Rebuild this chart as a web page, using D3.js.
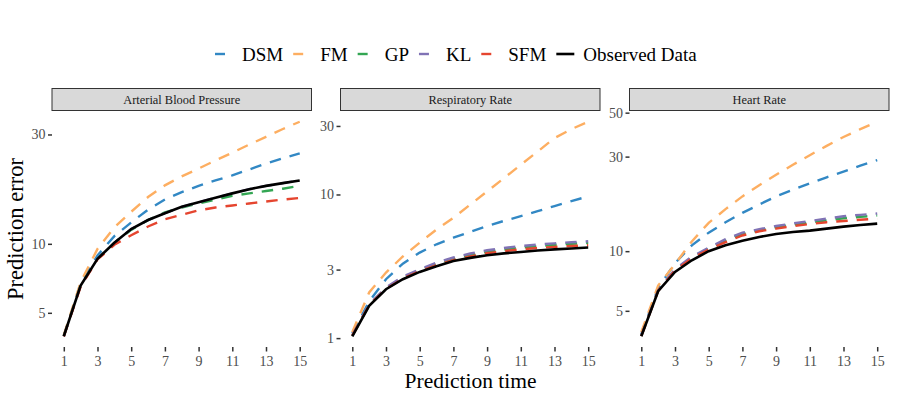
<!DOCTYPE html>
<html>
<head>
<meta charset="utf-8">
<script src="https://cdn.jsdelivr.net/npm/d3@7"></script>
<style>
  body { margin: 0; background: #fff; }
  svg text { font-family: "Liberation Serif", "DejaVu Serif", serif; }
</style>
</head>
<body>
<svg id="chart" width="897" height="399"></svg>
<script>
// prediction horizon
const times = [1, 2, 3, 4, 5, 6, 7, 8, 9, 10, 11, 12, 13, 14, 15];
const methods = ["DSM", "FM", "GP", "KL", "SFM", "Observed Data"];
const colors = ["#3288c4", "#fdae61", "#33a653", "#8073b5", "#e5452f", "#000000"];
const panelNames = ["Arterial Blood Pressure", "Respiratory Rate", "Heart Rate"];

// Arterial Blood Pressure
const abpDSM = [3.98, 6.7, 8.9, 10.8, 12.4, 14.1, 15.6, 16.8, 17.9, 18.9, 19.9, 21.1, 22.4, 23.6, 24.8];
const abpFM = [4.0, 6.8, 9.5, 11.8, 13.8, 16.0, 18.0, 19.7, 21.3, 23.1, 25.0, 27.1, 29.3, 31.7, 34.1];
const abpGP = [3.96, 6.6, 8.6, 10.1, 11.5, 12.7, 13.7, 14.4, 15.0, 15.6, 16.2, 16.6, 17.0, 17.4, 17.9];
const abpKL = [3.95, 6.57, 8.6, 10.1, 11.6, 12.7, 13.6, 14.5, 15.2, 15.9, 16.6, 17.3, 17.9, 18.4, 18.9];
const abpSFM = [3.95, 6.5, 8.55, 9.9, 10.9, 11.9, 12.8, 13.4, 14.0, 14.4, 14.7, 15.0, 15.3, 15.6, 15.85];
const abpObs = [3.95, 6.57, 8.6, 10.1, 11.6, 12.7, 13.6, 14.5, 15.2, 15.9, 16.6, 17.3, 17.9, 18.4, 18.9];

// Respiratory Rate
const rrDSM = [1.08, 1.8, 2.57, 3.3, 3.94, 4.5, 5.0, 5.5, 6.02, 6.55, 7.06, 7.65, 8.3, 9.0, 9.7];
const rrFM = [1.1, 2.08, 2.86, 3.7, 4.62, 5.7, 6.88, 8.5, 10.5, 13.0, 16.1, 19.9, 24.7, 28.5, 32.1];
const rrGP = [1.04, 1.7, 2.22, 2.63, 2.97, 3.28, 3.56, 3.79, 3.99, 4.14, 4.27, 4.37, 4.46, 4.54, 4.6];
const rrKL = [1.05, 1.72, 2.25, 2.68, 3.02, 3.35, 3.64, 3.88, 4.09, 4.24, 4.38, 4.48, 4.57, 4.65, 4.72];
const rrSFM = [1.04, 1.69, 2.2, 2.6, 2.93, 3.22, 3.49, 3.7, 3.9, 4.03, 4.15, 4.24, 4.32, 4.38, 4.43];
const rrObs = [1.03, 1.68, 2.19, 2.57, 2.89, 3.17, 3.44, 3.62, 3.78, 3.89, 3.98, 4.07, 4.15, 4.21, 4.27];

// Heart Rate
const hrDSM = [3.8, 6.5, 8.7, 10.7, 12.4, 14.0, 15.6, 17.2, 18.9, 20.4, 22.0, 23.6, 25.2, 27.0, 28.8];
const hrFM = [3.9, 6.7, 8.6, 11.2, 13.9, 16.3, 18.9, 21.5, 24.3, 27.3, 30.5, 34.0, 37.7, 41.3, 45.0];
const hrGP = [3.74, 6.33, 8.05, 9.3, 10.3, 11.3, 12.2, 12.7, 13.2, 13.6, 13.95, 14.3, 14.65, 14.9, 15.15];
const hrKL = [3.75, 6.35, 8.1, 9.4, 10.4, 11.5, 12.4, 12.9, 13.4, 13.8, 14.2, 14.6, 15.0, 15.25, 15.5];
const hrSFM = [3.73, 6.3, 8.0, 9.2, 10.2, 11.1, 12.0, 12.6, 13.0, 13.4, 13.7, 14.0, 14.2, 14.4, 14.6];
const hrObs = [3.72, 6.28, 7.85, 9.0, 10.0, 10.7, 11.3, 11.8, 12.2, 12.5, 12.7, 13.0, 13.3, 13.55, 13.77];

const xTicks = [1, 3, 5, 7, 9, 11, 13, 15];
const abpTicks = [5, 10, 30];
const rrTicks = [1, 3, 10, 30];
const hrTicks = [5, 10, 30, 50];

const panelSeries = [
    [abpDSM, abpFM, abpGP, abpKL, abpSFM, abpObs],
    [rrDSM, rrFM, rrGP, rrKL, rrSFM, rrObs],
    [hrDSM, hrFM, hrGP, hrKL, hrSFM, hrObs]
];
const panelTicks = [abpTicks, rrTicks, hrTicks];

const svg = d3.select("#chart");
const panelLeft = [52, 340.5, 629.5];
const panelW = 259.5;
const panelTop = 111;
const panelBottom = 347;
const dash = "11.5,9";

function drawPanel(p) {
    const x0 = panelLeft[p];
    const series = panelSeries[p];
    const x = d3.scaleLinear().domain([0.3, 15.7]).range([x0, x0 + panelW]);

    // log scale with 5% expansion, like ggplot
    const all = series.flat();
    const lo = Math.log10(d3.min(all));
    const hi = Math.log10(d3.max(all));
    const pad = (hi - lo) * 0.05;
    const y = d3.scaleLog()
        .domain([Math.pow(10, lo - pad), Math.pow(10, hi + pad)])
        .range([panelBottom, panelTop]);

    // strip
    svg.append("rect")
        .attr("x", x0)
        .attr("y", 88.5)
        .attr("width", panelW)
        .attr("height", 22)
        .style("fill", "#d9d9d9")
        .style("stroke", "#333333")
        .style("stroke-width", 1);
    svg.append("text")
        .attr("x", x0 + panelW / 2)
        .attr("y", 103.5)
        .attr("text-anchor", "middle")
        .style("font-size", "12.4px")
        .style("fill", "#1a1a1a")
        .text(panelNames[p]);

    const yAxis = svg.append("g")
        .attr("transform", "translate(" + x0 + ",0)")
        .call(d3.axisLeft(y).tickValues(panelTicks[p]).tickSize(4).tickPadding(2.5).tickFormat(d3.format("d")));
    const xAxis = svg.append("g")
        .attr("transform", "translate(0," + panelBottom + ")")
        .call(d3.axisBottom(x).tickValues(xTicks).tickSize(4.5).tickPadding(5).tickFormat(d3.format("d")));
    [xAxis, yAxis].forEach(function (a) {
        a.select(".domain").remove();
        a.selectAll(".tick line").style("stroke", "#333333").style("stroke-width", 1.5);
        a.selectAll(".tick text")
            .style("font-family", "Liberation Serif, serif")
            .style("font-size", "14px")
            .style("fill", "#4d4d4d");
    });

    const line = d3.line()
        .x(function (d, i) { return x(times[i]); })
        .y(function (d) { return y(d); });

    series.forEach(function (vals, m) {
        const path = svg.append("path")
            .datum(vals)
            .attr("d", line)
            .style("fill", "none")
            .style("stroke", colors[m]);
        if (m < 5) {
            path.style("stroke-width", 2.4).style("stroke-dasharray", dash);
        } else {
            path.style("stroke-width", 2.6);
        }
    });
}

for (let p = 0; p < 3; p++) {
    drawPanel(p);
}

// axis titles
svg.append("text")
    .attr("transform", "translate(23,229) rotate(-90)")
    .attr("text-anchor", "middle")
    .style("font-size", "22.5px")
    .text("Prediction error");
svg.append("text")
    .attr("x", 470.5)
    .attr("y", 387.5)
    .attr("text-anchor", "middle")
    .style("font-size", "21.5px")
    .text("Prediction time");

// legend
let legendX = 215;
methods.forEach(function (name, m) {
    const key = svg.append("line")
        .attr("x1", legendX)
        .attr("x2", legendX + 18)
        .attr("y1", 54)
        .attr("y2", 54)
        .style("stroke", colors[m])
        .style("stroke-width", m < 5 ? 2.4 : 2.6);
    if (m < 5) key.style("stroke-dasharray", "10,10");
    const label = svg.append("text")
        .attr("x", legendX + 27)
        .attr("y", 61)
        .style("font-size", "19px")
        .text(name);
    legendX = legendX + 27 + label.node().getComputedTextLength() + 10;
});
</script>
</body>
</html>
